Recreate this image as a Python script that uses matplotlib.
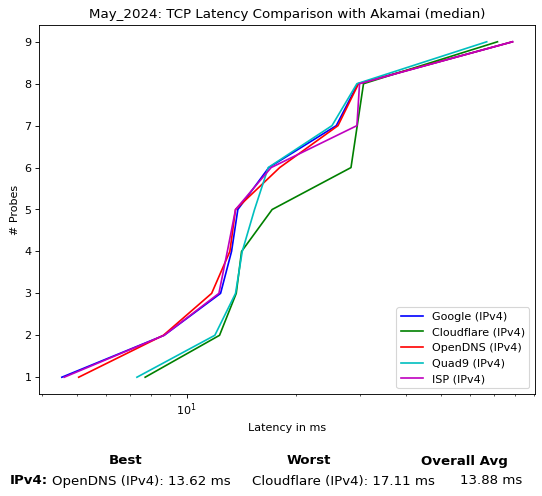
import matplotlib
matplotlib.use("Agg")
import matplotlib.pyplot as plt

probes = [1, 2, 3, 4, 5, 6, 7, 8, 9]
google = [4.54, 8.67, 12.39, 13.28, 13.82, 16.81, 25.76, 29.54, 78.5]
cloudflare = [7.69, 12.31, 13.68, 14.15, 17.17, 28.27, 29.41, 30.6, 71.4]
opendns = [5.05, 8.63, 11.71, 13.14, 13.62, 18.01, 26.04, 29.65, 78.5]
quad9 = [7.30, 11.95, 13.62, 14.21, 15.36, 16.75, 25.07, 29.35, 66.7]
isp = [4.61, 8.67, 12.26, 12.93, 13.62, 17.06, 29.35, 29.84, 78.5]

series_names = ["Google (IPv4)", "Cloudflare (IPv4)", "OpenDNS (IPv4)", "Quad9 (IPv4)", "ISP (IPv4)"]
series_values = [google, cloudflare, opendns, quad9, isp]
series_colors = ["b", "g", "r", "c", "m"]

title = "May_2024: TCP Latency Comparison with Akamai (median)"
best_text = "OpenDNS (IPv4): 13.62 ms"
worst_text = "Cloudflare (IPv4): 17.11 ms"
avg_text = "13.88 ms"

W, H = 542, 496
dpi = 80
fig = plt.figure(figsize=(W / dpi, H / dpi), dpi=dpi)
ax = fig.add_axes([39.3 / W, 1 - 394 / H, (535 - 39.3) / W, (394 - 25) / H])

for name, vals, col in zip(series_names, series_values, series_colors):
    ax.plot(vals, probes, color=col, label=name)

ax.set_xscale("log")
ax.set_title(title, fontsize=12)
ax.set_xlabel("Latency in ms")
ax.set_ylabel("# Probes")
ax.legend(loc="lower right")

fs = 12
fig.text(126 / W, 1 - 461 / H, "Best", ha="center", va="center", fontsize=fs, fontweight="bold")
fig.text(309 / W, 1 - 461 / H, "Worst", ha="center", va="center", fontsize=fs, fontweight="bold")
fig.text(464 / W, 1 - 461 / H, "Overall Avg", ha="center", va="center", fontsize=fs, fontweight="bold")
fig.text(10 / W, 1 - 481 / H, "IPv4:", ha="left", va="center", fontsize=fs, fontweight="bold")
fig.text(141 / W, 1 - 481 / H, best_text, ha="center", va="center", fontsize=fs)
fig.text(343 / W, 1 - 481 / H, worst_text, ha="center", va="center", fontsize=fs)
fig.text(491 / W, 1 - 481 / H, avg_text, ha="center", va="center", fontsize=fs)

fig.savefig("out.png", dpi=dpi)
